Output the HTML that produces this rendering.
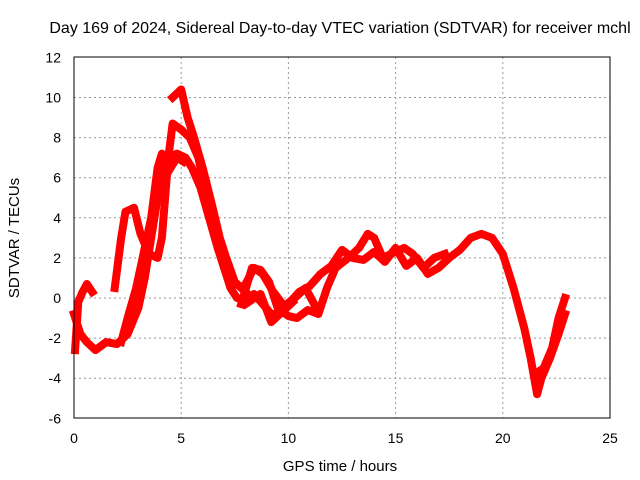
<!DOCTYPE html>
<html><head><meta charset="utf-8"><style>
body{margin:0;background:#fff;}
svg{display:block;font-family:"Liberation Sans",sans-serif;}
</style></head><body>
<svg id="chart" width="640" height="480">
<text x="340" y="33" font-size="16" text-anchor="middle">Day 169 of 2024, Sidereal Day-to-day VTEC variation (SDTVAR) for receiver mchl</text>
<text x="340" y="471" font-size="15" text-anchor="middle">GPS time / hours</text>
<text transform="translate(19,238) rotate(-90)" font-size="15" text-anchor="middle">SDTVAR / TECUs</text>
<g id="grid"></g><g id="ticks"></g><g id="series"></g>
<rect x="74" y="57" width="536" height="361" fill="none" stroke="#000" stroke-width="1"/>
</svg>
<script>
const xTicks=[0,5,10,15,20,25];
const yTicks=[-6,-4,-2,0,2,4,6,8,10,12];
const traceA=[[0,-0.8],[0.3,-1.8],[0.6,-2.2],[1.0,-2.6],[1.5,-2.2],[2.0,-2.3],[2.5,-1.8],[3.0,-0.5],[3.3,1],[3.6,3],[3.9,5],[4.1,6.5],[4.4,7],[4.8,7.2],[5.2,7.0],[5.5,6.5],[5.9,5.5],[6.3,4],[6.7,2.5],[7.0,1.5],[7.3,0.5],[7.6,0],[8.0,-0.1],[8.4,0.2],[8.8,-0.3],[9.2,-0.8],[9.6,-0.8],[10,-0.3],[10.5,0.3],[11,0.6],[11.5,1.2],[12,1.6],[12.5,2.4],[13,2],[13.5,1.9],[14,2.3],[14.5,1.8],[15,2.5],[15.5,1.6],[16,2],[16.5,1.2],[17,1.5],[17.5,2],[18,2.4],[18.5,3],[19,3.2],[19.5,3.0],[20,2.2],[20.5,0.5],[21,-1.5],[21.3,-3],[21.6,-4.8],[21.8,-4.0],[22.2,-3],[22.6,-1.8],[22.9,-0.8]];
const traceB=[[0.05,-2.6],[0.2,-0.2],[0.4,0.3],[0.6,0.7],[0.85,0.3]];
const traceC=[[1.9,0.5],[2.2,3],[2.4,4.3],[2.8,4.5],[3.1,3.2],[3.5,2.2],[3.9,2.0],[4.1,3],[4.4,7],[4.6,8.7],[5.0,8.4],[5.4,8.0],[5.8,7.0],[6.2,5],[6.6,3],[7,1.5],[7.4,0.8],[7.9,0.5],[8.4,1.5],[8.8,1.2],[9.3,0.3],[9.8,-0.4],[10.3,0],[10.8,0.5],[11.3,-0.5]];
const traceD=[[4.6,10],[5.0,10.4],[5.3,9],[5.6,8],[6,6.5],[6.4,4.8],[6.8,3],[7.1,2],[7.5,0.8],[8,0.3]];
const traceE=[[2.2,-2.2],[2.5,-1],[2.9,0.5],[3.3,2.5],[3.6,4],[3.9,6.5],[4.1,7.2],[4.4,6.3],[4.8,7],[5.1,6.8]];
const traceF=[[7.8,-0.3],[8.3,1.5],[8.7,1.4],[9.1,0.8],[9.5,-0.5],[10,-0.9],[10.4,-1.0],[10.9,-0.6],[11.4,-0.8],[11.8,0.5],[12.2,1.5],[12.8,2],[13.3,2.5],[13.7,3.2],[14,3],[14.4,2],[14.8,2.2],[15.4,2.5],[15.8,2.2],[16.3,1.5],[16.8,2.0],[17.3,2.2]];
const traceG=[[8,-0.3],[8.7,0.2],[9.2,-1.2],[9.6,-0.8],[10.2,-0.2]];
const traceH=[[21.5,-3.8],[21.9,-3.5],[22.3,-2.5],[22.6,-1],[22.9,0.0]];
const traces=[traceA,traceB,traceC,traceD,traceE,traceF,traceG,traceH];
const NS="http://www.w3.org/2000/svg";
const X=t=>74+t*(536/25);
const Y=v=>298-v*20.05;
const grid=document.getElementById('grid'),ticks=document.getElementById('ticks'),ser=document.getElementById('series');
xTicks.forEach(t=>{
 if(t>0&&t<25){const l=document.createElementNS(NS,'line');
 l.setAttribute('x1',X(t));l.setAttribute('x2',X(t));l.setAttribute('y1',57);l.setAttribute('y2',418);
 l.setAttribute('stroke','#999');l.setAttribute('stroke-dasharray','2,3');
 
 grid.appendChild(l);}
 const tx=document.createElementNS(NS,'text');tx.setAttribute('x',X(t));tx.setAttribute('y',443);
 tx.setAttribute('font-size','14');tx.setAttribute('text-anchor','middle');tx.textContent=t;
 
 ticks.appendChild(tx);
});
yTicks.forEach(v=>{
 if(v>-6&&v<12){const l=document.createElementNS(NS,'line');
 l.setAttribute('x1',74);l.setAttribute('x2',610);l.setAttribute('y1',Y(v));l.setAttribute('y2',Y(v));
 l.setAttribute('stroke','#999');l.setAttribute('stroke-dasharray','2,3');
 
 grid.appendChild(l);}
 const tx=document.createElementNS(NS,'text');tx.setAttribute('x',61);tx.setAttribute('y',Y(v)+5);
 tx.setAttribute('font-size','14');tx.setAttribute('text-anchor','end');tx.textContent=v;
 
 ticks.appendChild(tx);
});
traces.forEach(tr=>{
 const p=document.createElementNS(NS,'polyline');
 p.setAttribute('points',tr.map(d=>X(d[0])+','+Y(d[1])).join(' '));
 p.setAttribute('fill','none');p.setAttribute('stroke','#f00');p.setAttribute('stroke-width','8');
 p.setAttribute('stroke-linejoin','round');p.setAttribute('stroke-linecap','square');
 
 ser.appendChild(p);
});
</script>
</body></html>
